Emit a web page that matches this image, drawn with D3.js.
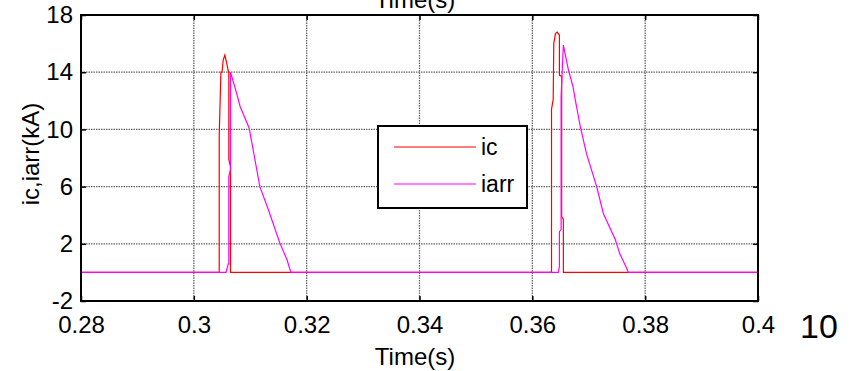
<!DOCTYPE html>
<html>
<head>
<meta charset="utf-8">
<script src="https://cdn.jsdelivr.net/npm/d3@7"></script>
<style>
  body { margin: 0; background: #fff; }
  svg { display: block; font-family: "Liberation Sans", Arial, sans-serif; }
  .tick text { font-size: 24px; fill: #000; }
</style>
</head>
<body>
<div id="chart"></div>
<script>
(function() {

const w = 854;
const h = 371;
const left = 81, right = 758, top = 15, bottom = 301;

// simulated currents, kA
const icTime = [0.28, 0.3045, 0.3045, 0.3048, 0.3050, 0.3052, 0.3055, 0.3059, 0.3062, 0.3062, 0.3065, 0.3065,
    0.3634, 0.3634, 0.3637, 0.3638, 0.3641, 0.3644, 0.3648, 0.3648, 0.3652, 0.3652, 0.3655, 0.3655, 0.40];
const icValue = [0, 0, 9.6, 14.0, 14.0, 14.85, 15.2, 14.5, 13.9, 7.9, 7.4, 0,
    0, 11.4, 12.1, 16.0, 16.7, 16.8, 16.6, 13.8, 13.7, 3.9, 3.7, 0, 0];

const iarrTime = [0.28, 0.3057, 0.3061, 0.3062, 0.3062, 0.3065, 0.3065, 0.3076, 0.3082, 0.3098, 0.3105, 0.3117,
    0.3132, 0.3152, 0.3165, 0.3172, 0.3646, 0.3648, 0.3648, 0.3651, 0.3651, 0.3655, 0.3664, 0.3672, 0.3676,
    0.3685, 0.3696, 0.3714, 0.3726, 0.3747, 0.3755, 0.3767, 0.3770, 0.40];
const iarrValue = [0, 0, 0.6, 0.6, 6.7, 7.2, 14.0, 12.5, 11.6, 10.1, 8.6, 6.0,
    4.4, 2.1, 0.9, 0, 0, 0.4, 2.85, 3.0, 12.3, 15.9, 14.15, 13.0, 12.1,
    10.2, 8.3, 6.0, 4.1, 2.3, 1.3, 0.3, 0, 0];

const xTicks = [0.28, 0.3, 0.32, 0.34, 0.36, 0.38, 0.4];
const xTickLabels = ["0.28", "0.3", "0.32", "0.34", "0.36", "0.38", "0.4"];
const yTicks = [-2, 2, 6, 10, 14, 18];
const yTickLabels = ["-2", "2", "6", "10", "14", "18"];

const seriesNames = ["ic", "iarr"];
const seriesColors = ["#ff0000", "#ff00ff"];

const xScale = d3.scaleLinear().domain([0.28, 0.4]).range([left, right]);
const yScale = d3.scaleLinear().domain([-2, 18]).range([bottom, top]);

const svg = d3.select("#chart")
    .append("svg")
    .attr("width", w)
    .attr("height", h);

// grid
svg.append("g")
    .selectAll("line")
    .data(xTicks.slice(1, -1))
    .enter()
    .append("line")
    .attr("x1", d => xScale(d)).attr("x2", d => xScale(d))
    .attr("y1", top).attr("y2", bottom)
    .attr("stroke", "#666")
    .attr("stroke-width", 1.3)
    .attr("stroke-dasharray", "1.5,1");

svg.append("g")
    .selectAll("line")
    .data(yTicks.slice(1, -1))
    .enter()
    .append("line")
    .attr("y1", d => yScale(d)).attr("y2", d => yScale(d))
    .attr("x1", left).attr("x2", right)
    .attr("stroke", "#666")
    .attr("stroke-width", 1.3)
    .attr("stroke-dasharray", "1.5,1");

// axes, ticks pointing inward
svg.append("g")
    .attr("transform", `translate(0,${bottom})`)
    .call(d3.axisBottom(xScale).tickValues(xTicks).tickSize(-5).tickSizeOuter(0).tickPadding(15)
        .tickFormat((d, i) => xTickLabels[i]));

svg.append("g")
    .attr("transform", `translate(0,${top})`)
    .call(d3.axisTop(xScale).tickValues(xTicks).tickSize(-5).tickSizeOuter(0).tickFormat(""));

svg.append("g")
    .attr("transform", `translate(${left},0)`)
    .call(d3.axisLeft(yScale).tickValues(yTicks).tickSize(-5).tickSizeOuter(0).tickPadding(8)
        .tickFormat((d, i) => yTickLabels[i]));

svg.append("g")
    .attr("transform", `translate(${right},0)`)
    .call(d3.axisRight(yScale).tickValues(yTicks).tickSize(-5).tickSizeOuter(0).tickFormat(""));

svg.selectAll(".domain").remove();
svg.selectAll(".tick line").attr("stroke", "#000").attr("stroke-width", 1.5);

// lines
const line = d3.line()
    .x(d => xScale(d[0]))
    .y(d => yScale(d[1]));

svg.append("path")
    .datum(d3.zip(icTime, icValue))
    .attr("d", line)
    .attr("fill", "none")
    .attr("stroke", seriesColors[0])
    .attr("stroke-width", 1.2);

svg.append("path")
    .datum(d3.zip(iarrTime, iarrValue))
    .attr("d", line)
    .attr("fill", "none")
    .attr("stroke", seriesColors[1])
    .attr("stroke-width", 1.2);

// frame
svg.append("rect")
    .attr("x", left).attr("y", top)
    .attr("width", right - left).attr("height", bottom - top)
    .attr("fill", "none")
    .attr("stroke", "#000")
    .attr("stroke-width", 2);

// labels
svg.append("text")
    .attr("x", 415).attr("y", 365)
    .attr("text-anchor", "middle")
    .attr("font-size", 24)
    .text("Time(s)");

// title sits partly above the page, as in the source figure
svg.append("text")
    .attr("x", 415).attr("y", 8)
    .attr("text-anchor", "middle")
    .attr("font-size", 24)
    .text("Time(s)");

svg.append("text")
    .attr("transform", "translate(39,154) rotate(-90)")
    .attr("text-anchor", "middle")
    .attr("font-size", 24)
    .text("ic,iarr(kA)");

svg.append("text")
    .attr("x", 800).attr("y", 338)
    .attr("font-size", 34)
    .text("10");

// legend
const legend = svg.append("g");
legend.append("rect")
    .attr("x", 378).attr("y", 126)
    .attr("width", 149).attr("height", 82)
    .attr("fill", "#fff")
    .attr("stroke", "#000")
    .attr("stroke-width", 2);

legend.selectAll("line")
    .data(seriesNames)
    .enter()
    .append("line")
    .attr("x1", 394).attr("x2", 476)
    .attr("y1", (d, i) => 147 + i * 37)
    .attr("y2", (d, i) => 147 + i * 37)
    .attr("stroke", (d, i) => seriesColors[i])
    .attr("stroke-width", 1.2);

legend.selectAll("text")
    .data(seriesNames)
    .enter()
    .append("text")
    .attr("x", 481)
    .attr("y", (d, i) => 155 + i * 37)
    .attr("font-size", 23)
    .text(d => d);

})();
</script>
</body>
</html>
